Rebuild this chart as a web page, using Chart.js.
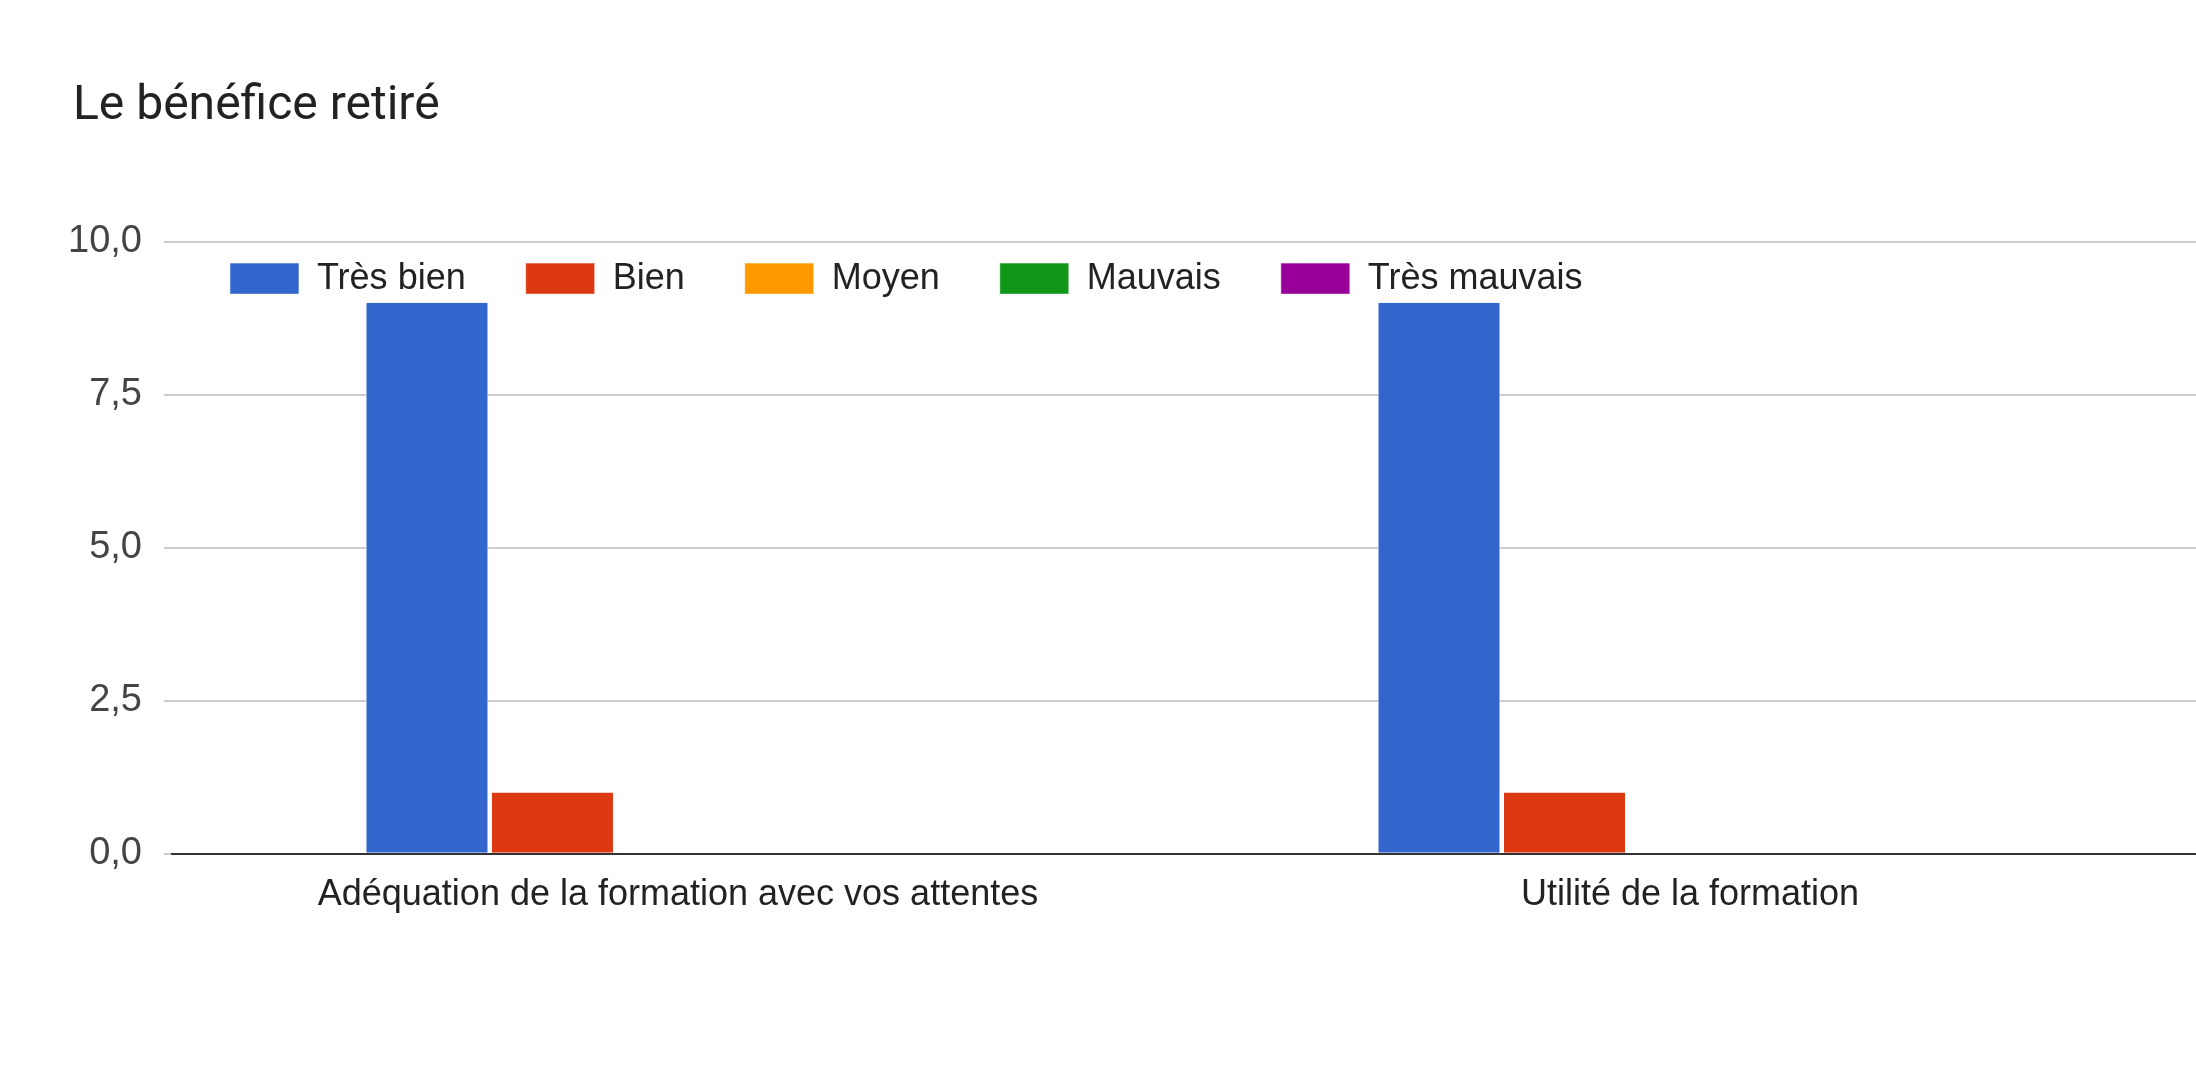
<!DOCTYPE html>
<html><head><meta charset="utf-8">
<script src="https://cdn.jsdelivr.net/npm/chart.js@4/dist/chart.umd.min.js"></script>
<style>html,body{margin:0;padding:0;background:#fff}</style>
</head><body>
<canvas id="c" width="2196" height="1074"></canvas>
<script>
const categories = ["Adéquation de la formation avec vos attentes", "Utilité de la formation"];
const seriesNames = ["Très bien", "Bien", "Moyen", "Mauvais", "Très mauvais"];
const tresBien = [9, 9];
const bien = [1, 1];
const moyen = [0, 0];
const mauvais = [0, 0];
const tresMauvais = [0, 0];
const colors = ["#3366cc", "#dc3912", "#ff9900", "#109618", "#990099"];
const values = [tresBien, bien, moyen, mauvais, tresMauvais];

const shiftPlugin = {
  id: 'shift',
  afterLayout(chart) {
    const lg = chart.legend, ca = chart.chartArea;
    const w = lg.right - lg.left, h = lg.bottom - lg.top;
    lg.left = ca.left - 2; lg.right = lg.left + w;
    lg.top = ca.top - 41; lg.bottom = lg.top + h;
    const t = chart.titleBlock;
    t.left += 27; t.right += 27;
  }
};

Chart.defaults.font.family = "Arial, 'Liberation Sans', sans-serif";
Chart.defaults.color = "#222";
new Chart(document.getElementById('c'), {
  type: 'bar',
  plugins: [shiftPlugin],
  data: {
    labels: categories,
    datasets: seriesNames.map((n, i) => ({
      label: n, data: values[i], backgroundColor: colors[i],
      borderColor: '#fff', borderWidth: {left:1,right:1,top:0,bottom:0},
      barPercentage: 0.98, categoryPercentage: 0.62
    }))
  },
  options: {
    responsive: false, devicePixelRatio: 1, animation: false,
    layout: { padding: { left: 46, right: 0, top: 78, bottom: 145 } },
    plugins: {
      title: { display: true, text: "Le bénéfice retiré", align: 'start',
        font: { family: "Roboto, Arial, sans-serif", size: 48, weight: 'normal' }, color: '#222', padding: { top: 0, bottom: 0 } },
      legend: { position: 'top', align: 'start',
        labels: { boxWidth: 69, boxHeight: 31, font: { size: 36 }, color: '#222', padding: 60 } },
      tooltip: { enabled: false }
    },
    scales: {
      x: { grid: { display: false }, border: { color: '#333', width: 2 },
        ticks: { font: { size: 36 }, color: '#222', padding: 12 } },
      y: { min: 0, max: 10, border: { display: false },
        grid: { color: '#ccc', lineWidth: 2 },
        ticks: { stepSize: 2.5, font: { size: 38 }, color: '#444', padding: 22,
          callback: v => v.toLocaleString('fr-FR', { minimumFractionDigits: 1, maximumFractionDigits: 1 }) } }
    }
  }
});
</script>
</body></html>
